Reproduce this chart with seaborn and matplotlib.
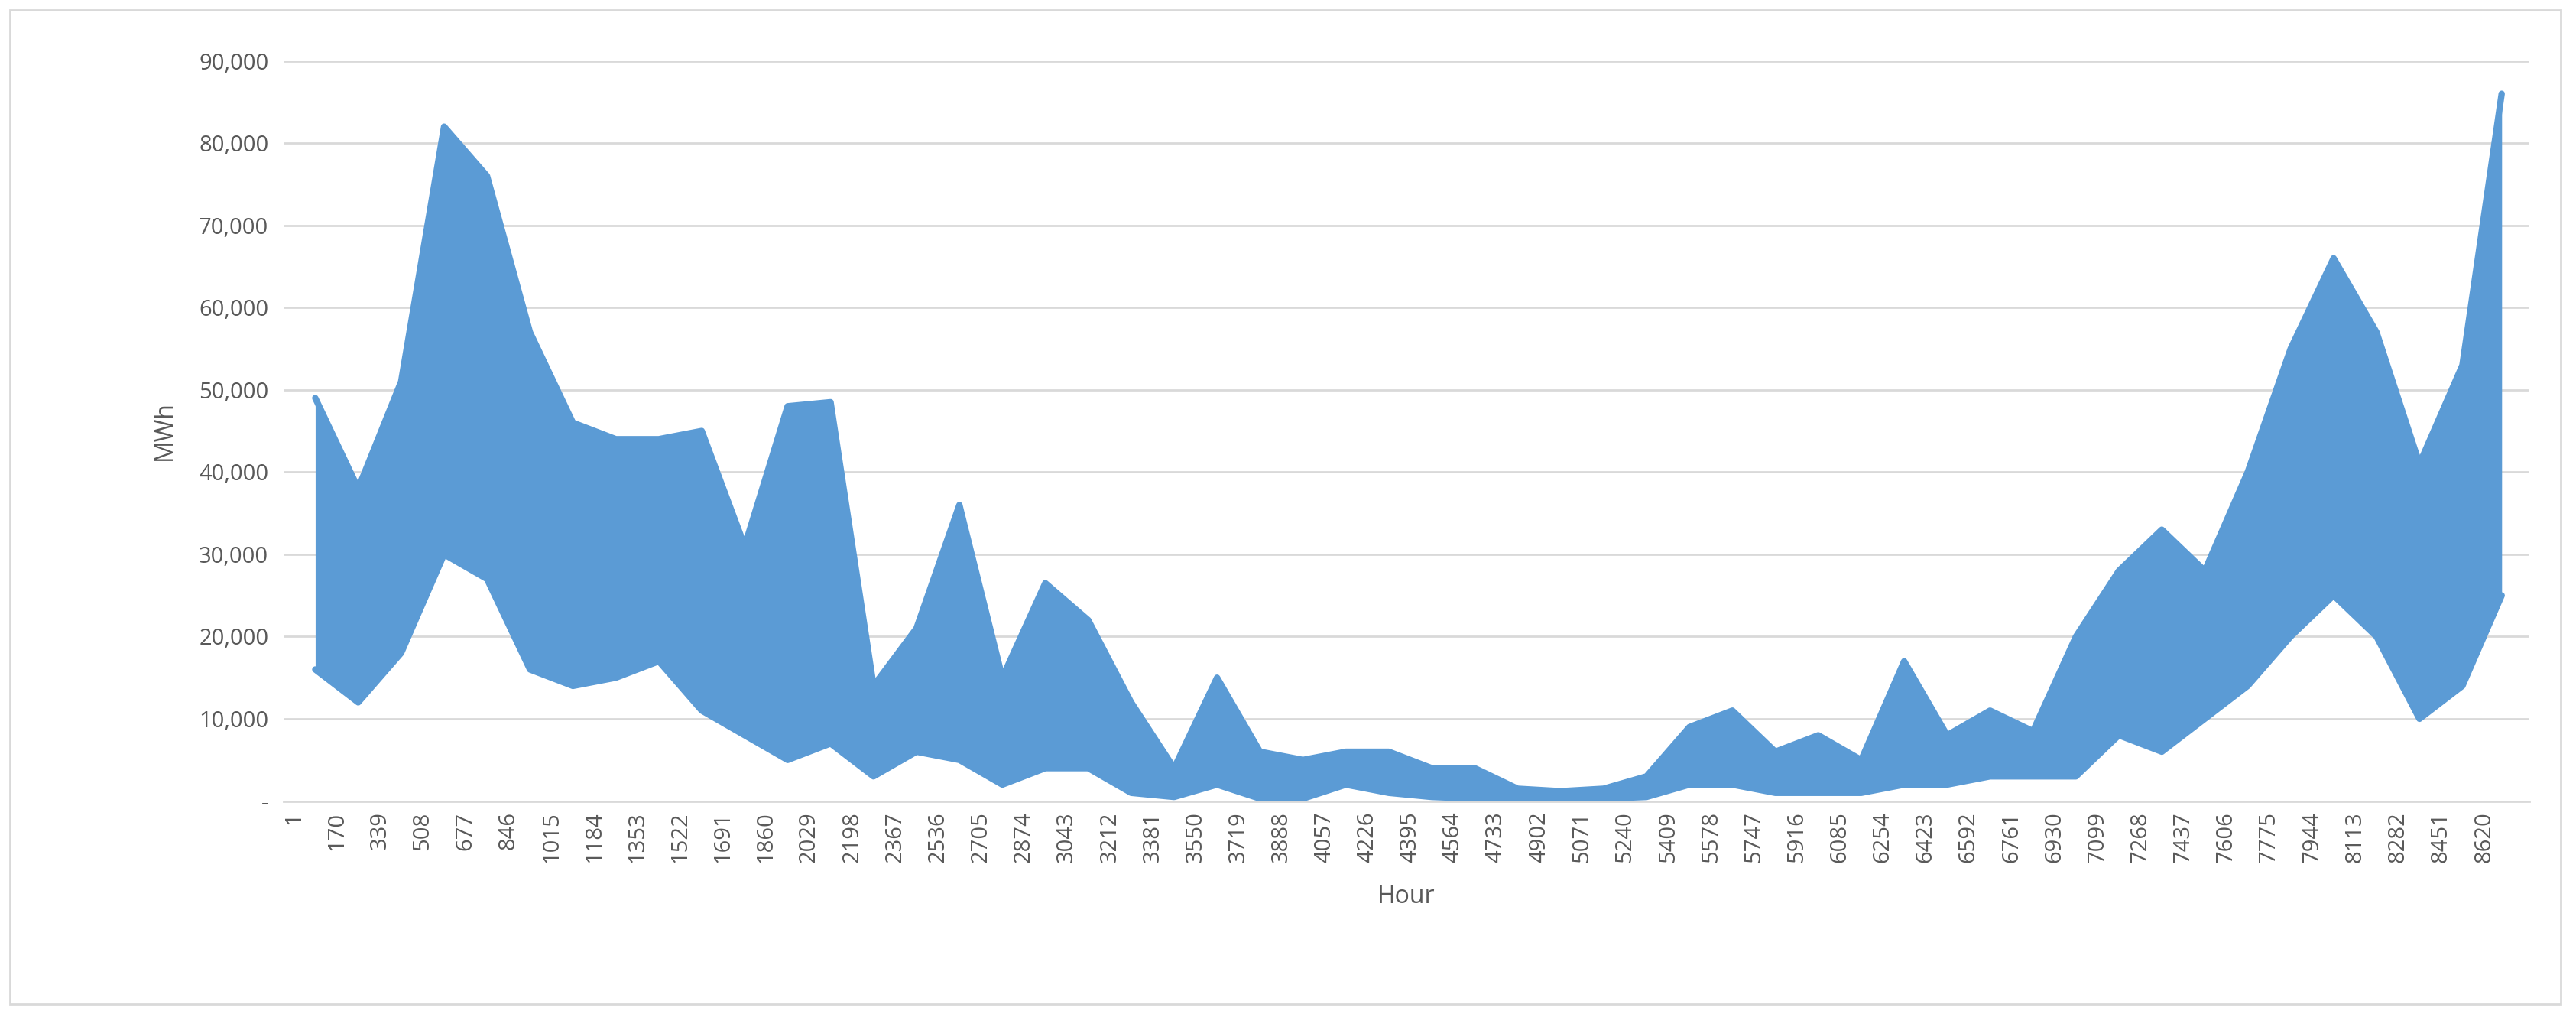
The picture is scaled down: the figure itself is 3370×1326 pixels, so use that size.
import matplotlib
matplotlib.use("Agg")
import matplotlib.pyplot as plt
import seaborn as sns
import pandas as pd
from matplotlib.ticker import FuncFormatter

# interval start hours (tick labels) and envelope values (MWh)
interval_start = [1,170,339,508,677,846,1015,1184,1353,1522,1691,1860,2029,2198,2367,2536,2705,2874,3043,3212,
                  3381,3550,3719,3888,4057,4226,4395,4564,4733,4902,5071,5240,5409,5578,5747,5916,6085,6254,6423,
                  6592,6761,6930,7099,7268,7437,7606,7775,7944,8113,8282,8451,8620]
peak_mwh = [49000,38000,51000,82000,76000,57000,46000,44000,44000,45000,31000,48000,48500,14000,21000,36000,15000,26500,
            22000,12000,4000,15000,6000,5000,6000,6000,4000,4000,1500,1200,1500,3000,9000,11000,6000,8000,5000,17000,
            8000,11000,8500,20000,28000,33000,28000,40000,55000,66000,57000,41000,53000,86000]
trough_mwh = [16000,12000,18000,30000,27000,16000,14000,15000,17000,11000,8000,5000,7000,3000,6000,5000,2000,4000,
              4000,1000,500,2000,300,300,2000,1000,500,300,200,300,300,500,2000,2000,1000,1000,1000,2000,2000,3000,
              3000,3000,8000,6000,10000,14000,20000,25000,20000,10000,14000,25000]
tick_labels = [str(h) for h in interval_start]

mids = []
for i, s in enumerate(interval_start):
    e = interval_start[i+1] if i+1 < len(interval_start) else 8760
    mids.append((s + e) / 2)
df = pd.DataFrame({"Hour": mids, "Peak": peak_mwh, "Trough": trough_mwh})

sns.set_theme(style="white")
plt.rcParams['font.family'] = ['Open Sans', 'DejaVu Sans']
fig = plt.figure(figsize=(33.7, 13.26), dpi=100)
ax = fig.add_axes([0.11, 0.21, 0.872, 0.73])
c = "#5B9BD5"
ax.fill_between(df["Hour"], df["Trough"], df["Peak"], color=c, linewidth=0)
sns.lineplot(data=df, x="Hour", y="Peak", ax=ax, color=c, linewidth=6)
sns.lineplot(data=df, x="Hour", y="Trough", ax=ax, color=c, linewidth=6)
ax.set_xlim(-40, 8800)
ax.set_ylim(0, 90000)
ax.set_yticks(range(0, 90001, 10000))
ax.yaxis.set_major_formatter(FuncFormatter(lambda v, p: "-" if v == 0 else f"{int(v):,}"))
ax.set_xticks(interval_start)
ax.set_xticklabels(tick_labels, rotation=90)
ax.tick_params(axis='both', labelsize=21, colors="#595959", length=0)
ax.tick_params(axis='y', pad=14)
ax.tick_params(axis='x', pad=10)
ax.grid(axis='y', color="#D9D9D9", linewidth=2)
for sp in ["top", "right", "left"]:
    ax.spines[sp].set_visible(False)
ax.spines["bottom"].set_color("#D9D9D9")
ax.spines["bottom"].set_linewidth(2)
ax.set_xlabel("Hour", fontsize=23, color="#595959", labelpad=20)
ax.set_ylabel("MWh", fontsize=23, color="#595959", labelpad=20)
fig.patches.append(plt.Rectangle((0.004, 0.01), 0.99, 0.98, transform=fig.transFigure,
                                 fill=False, edgecolor="#D9D9D9", linewidth=2))
fig.savefig("out.png", dpi=100, facecolor="white")
